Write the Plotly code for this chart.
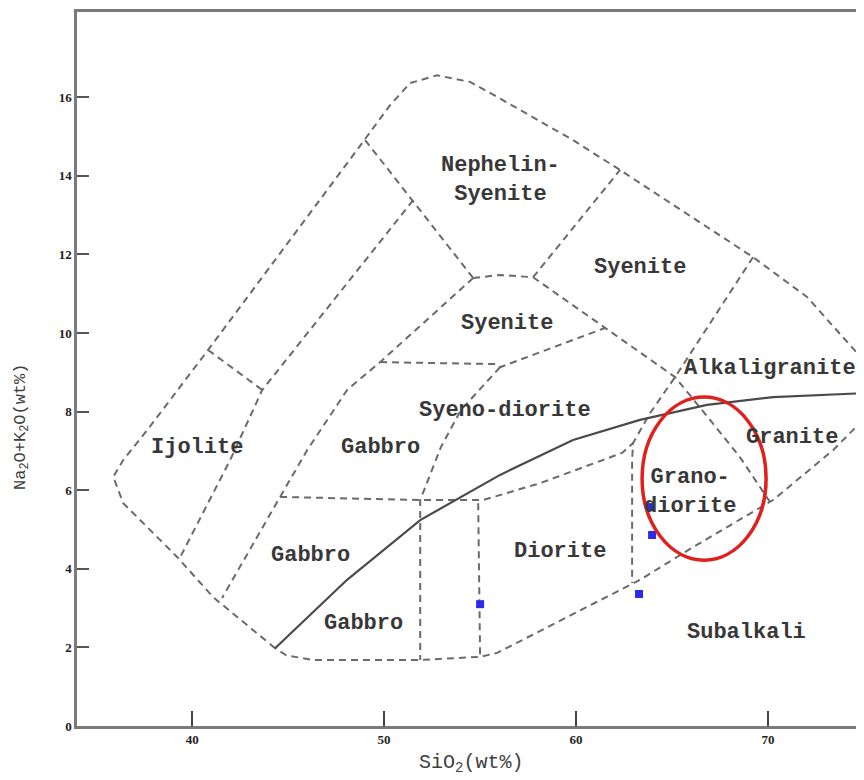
import plotly.graph_objects as go

# ---- axis ticks ----
x_ticks = [40, 50, 60, 70]
y_ticks = [0, 2, 4, 6, 8, 10, 12, 14, 16]

# ---- field boundaries (SiO2, Na2O+K2O) ----
envelope_x = [44.32, 41.09, 39.22, 36.41, 35.89, 36.41, 37.66, 40.83, 48.59, 50.31, 51.35, 52.76, 54.48, 55.89,
              59.84, 62.29, 69.22, 72.03, 74.64, 75.57, 75.42, 74.79, 73.39, 70.26, 66.09, 63.33, 55.89, 55.00,
              51.88, 46.30, 44.90, 44.32]
envelope_y = [1.98, 3.28, 4.30, 5.67, 6.34, 6.77, 7.53, 9.57, 14.66, 15.80, 16.36, 16.56, 16.39, 16.01,
              14.91, 14.15, 11.93, 10.92, 9.49, 8.68, 8.04, 7.71, 7.02, 5.75, 4.55, 3.72, 1.86, 1.76,
              1.68, 1.68, 1.80, 1.98]

neph_left_x = [49.01, 54.64]
neph_left_y = [14.91, 11.40]
neph_bottom_x = [54.64, 56.04, 57.76]
neph_bottom_y = [11.40, 11.48, 11.42]
neph_right_x = [57.76, 62.29]
neph_right_y = [11.42, 14.15]
diag_x = [57.76, 61.51, 65.16, 66.98, 68.54, 70.10]
diag_y = [11.42, 10.13, 8.88, 7.79, 6.84, 5.70]
alkgr_x = [69.22, 65.16, 63.85, 62.97, 62.92, 62.92]
alkgr_y = [11.93, 8.88, 7.96, 7.20, 6.77, 3.64]
syen_left_x = [54.64, 49.79, 48.07, 45.99, 44.58, 41.56]
syen_left_y = [11.40, 9.26, 8.55, 7.02, 5.83, 3.26]
ijolite_right_x = [51.51, 43.65, 41.98, 39.38]
ijolite_right_y = [13.38, 8.55, 6.77, 4.30]
ijolite_cross_x = [40.83, 43.65]
ijolite_cross_y = [9.57, 8.55]
syen_bottom_x = [49.79, 55.89, 56.04, 61.51]
syen_bottom_y = [9.26, 9.21, 9.13, 10.13]
syenodio_left_x = [56.04, 54.00, 52.96, 51.88, 51.88]
syenodio_left_y = [9.13, 8.04, 7.10, 5.75, 1.68]
gabbro_h_x = [44.58, 51.88, 55.16, 58.13, 62.40, 62.97]
gabbro_h_y = [5.83, 5.75, 5.75, 6.18, 6.95, 7.20]
diorite_left_x = [54.90, 55.00]
diorite_left_y = [5.67, 1.76]

dashed_lines = [
    (envelope_x, envelope_y), (neph_left_x, neph_left_y), (neph_bottom_x, neph_bottom_y),
    (neph_right_x, neph_right_y), (diag_x, diag_y), (alkgr_x, alkgr_y), (syen_left_x, syen_left_y),
    (ijolite_right_x, ijolite_right_y), (ijolite_cross_x, ijolite_cross_y), (syen_bottom_x, syen_bottom_y),
    (syenodio_left_x, syenodio_left_y), (gabbro_h_x, gabbro_h_y), (diorite_left_x, diorite_left_y),
]

# alkaline / subalkaline divide (solid)
divide_x = [44.32, 48.07, 51.88, 56.04, 59.84, 63.33, 66.82, 70.26, 75.00, 76.00]
divide_y = [1.98, 3.72, 5.24, 6.39, 7.28, 7.79, 8.17, 8.37, 8.47, 8.50]

# ---- samples ----
sample_sio2 = [55.00, 63.85, 63.96, 63.28]
sample_alk = [3.10, 5.57, 4.86, 3.36]

# ---- highlight ellipse bounds ----
ellipse_x = [63.44, 69.90]
ellipse_y = [4.22, 8.37]

# ---- field labels ----
label_text = ["Nephelin-<br>Syenite", "Syenite", "Syenite", "Syeno-diorite", "Ijolite", "Gabbro", "Gabbro",
              "Gabbro", "Diorite", "Grano-<br>diorite", "Alkaligranite", "Granite", "Subalkali"]
label_x = [56.04, 63.33, 56.41, 56.30, 40.26, 49.79, 46.15, 48.91, 59.17, 65.94, 70.10, 71.25, 68.90]
label_y = [13.89, 11.68, 10.25, 8.04, 7.10, 7.10, 4.35, 2.62, 4.43, 5.95, 9.11, 7.33, 2.37]

fig = go.Figure()
for xs, ys in dashed_lines:
    fig.add_trace(go.Scatter(x=xs, y=ys, mode="lines", hoverinfo="skip",
                             line=dict(color="#6a6a6a", width=2, dash="7px,5px")))
fig.add_trace(go.Scatter(x=divide_x, y=divide_y, mode="lines", hoverinfo="skip",
                         line=dict(color="#4a4a4a", width=2.2)))
fig.add_trace(go.Scatter(x=sample_sio2, y=sample_alk, mode="markers",
                         marker=dict(symbol="square", size=8, color="#2a2ae8")))

fig.add_shape(type="circle", xref="x", yref="y", x0=ellipse_x[0], x1=ellipse_x[1],
              y0=ellipse_y[0], y1=ellipse_y[1], line=dict(color="#e0201c", width=3.5))

for t, x, y in zip(label_text, label_x, label_y):
    fig.add_annotation(x=x, y=y, text=t, showarrow=False, xref="x", yref="y",
                       font=dict(family="Liberation Mono", size=22, color="#383838", weight="bold"))

fig.add_annotation(x=0.5, y=-0.052, xref="paper", yref="paper", text="SiO<sub>2</sub>(wt%)",
                   showarrow=False, xanchor="center", yanchor="middle",
                   font=dict(family="Liberation Mono", size=20, color="#404040"))
fig.add_annotation(x=-0.07, y=0.42, xref="paper", yref="paper", text="Na<sub>2</sub>O+K<sub>2</sub>O(wt%)",
                   showarrow=False, textangle=-90, xanchor="center", yanchor="middle",
                   font=dict(family="Liberation Mono", size=17, color="#404040"))

# the page body adds an 8px offset; the figure is sized so its plot area lands where the reference's does
fig.update_layout(
    width=856, height=772,
    margin=dict(l=69, r=0, t=4, b=54),
    paper_bgcolor="white", plot_bgcolor="white",
    showlegend=False,
    xaxis=dict(range=[34.0, 75.0], tickvals=x_ticks, ticks="inside", ticklen=15, tickwidth=2,
               tickcolor="#444", showline=True, linecolor="#7a7a7a", linewidth=2.5, mirror=True,
               showgrid=False, zeroline=False,
               tickfont=dict(family="Liberation Serif", size=13, color="#222", weight="bold")),
    yaxis=dict(range=[0, 18.17], tickvals=y_ticks, ticks="inside", ticklen=12, tickwidth=2,
               tickcolor="#555", showline=True, linecolor="#7a7a7a", linewidth=2.5, mirror=False,
               showgrid=False, zeroline=False,
               tickfont=dict(family="Liberation Serif", size=13, color="#222", weight="bold")),
)

fig.write_html("out.html")
